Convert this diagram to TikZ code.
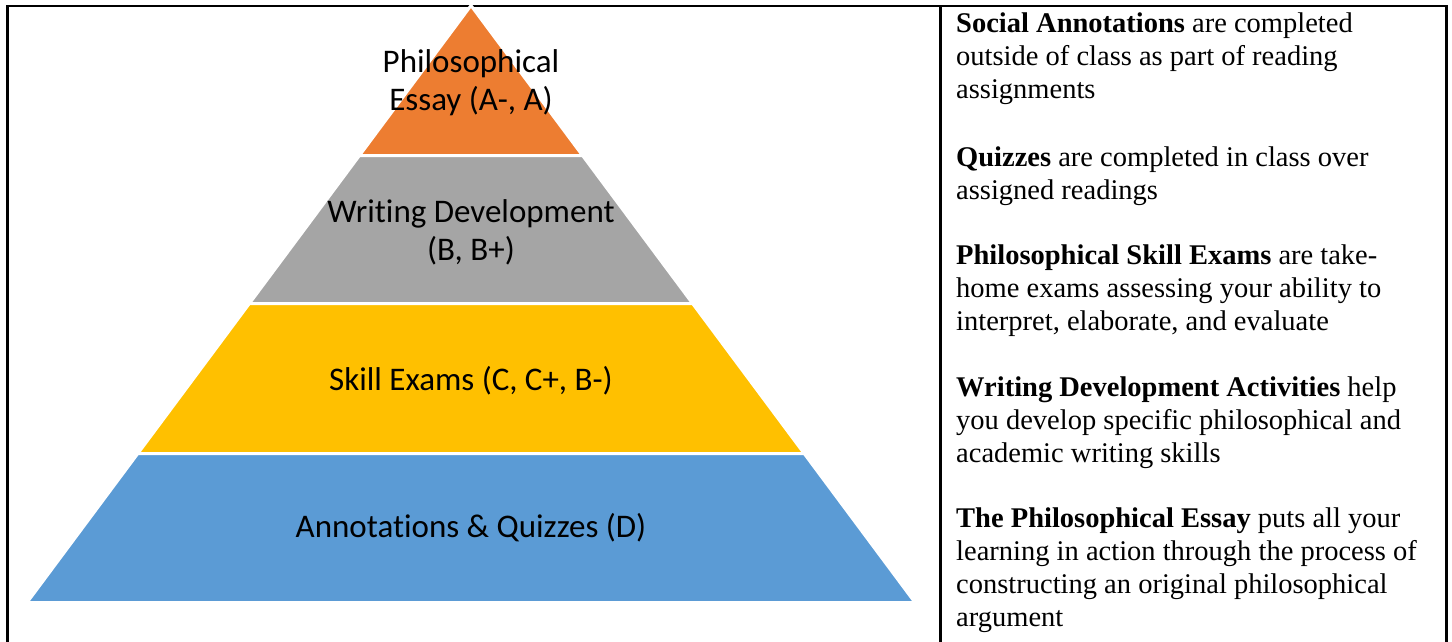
\documentclass[tikz,border=0pt]{standalone}
\usepackage{fontspec}
\setmainfont{Liberation Serif}
\newfontfamily\pyrfont[Ligatures=CommonOff]{Carlito}
\usetikzlibrary{positioning}

\definecolor{essayorange}{HTML}{ED7D31}
\definecolor{writegray}{HTML}{A5A5A5}
\definecolor{examyellow}{HTML}{FFC000}
\definecolor{quizblue}{HTML}{5B9BD5}

\tikzset{
  layer/.style={fill=#1, draw=white, line width=3pt},
  layerlabel/.style={font=\pyrfont\fontsize{33}{38}\selectfont, align=center, inner sep=0pt},
  % anchored at the baseline of the last line
  note/.style={font=\fontsize{28.5}{33}\selectfont, align=left, anchor=base west, inner sep=0pt},
  rule/.style={line width=2.5pt}
}

\begin{document}
\begin{tikzpicture}[x=1pt,y=-1pt]
\useasboundingbox (0,0) rectangle (1452,641);
% table
\draw[rule] (7.5,650) -- (7.5,6) -- (1446.5,6) -- (1446.5,650);
\draw[rule] (940.5,6) -- (940.5,650);
% pyramid
\foreach \t/\b/\c in {5.5/155.5/essayorange, 155.5/303.5/writegray, 303.5/453.5/examyellow, 453.5/602.5/quizblue}
  \filldraw[layer=\c] ({471-0.7437*(\t-5.5)},\t) -- ({471+0.7437*(\t-5.5)},\t)
    -- ({471+0.7437*(\b-5.5)},\b) -- ({471-0.7437*(\b-5.5)},\b) -- cycle;
\node[layerlabel] (essay) at (471,83) {Philosophical\\Essay (A-, A)};
\node[layerlabel] (writing) at (471,232) {Writing Development\\(B, B+)};
\node[layerlabel] (skill) at (471,381) {Skill Exams (C, C+, B-)};
\node[layerlabel] (annot) at (471,528) {Annotations \& Quizzes (D)};
% notes
\node[note] (social) at (956,98) {\textbf{Social Annotations} are completed\\outside of class as part of reading\\assignments};
\node[note] (quiz) at (956,199) {\textbf{Quizzes} are completed in class over\\assigned readings};
\node[note] (exams) at (956,330) {\textbf{Philosophical Skill Exams} are take-\\home exams assessing your ability to\\interpret, elaborate, and evaluate};
\node[note] (devel) at (956,462) {\textbf{Writing Development Activities} help\\you develop specific philosophical and\\academic writing skills};
\node[note] (essaynote) at (956,626) {\textbf{The Philosophical Essay} puts all your\\learning in action through the process of\\constructing an original philosophical\\argument};
\end{tikzpicture}
\end{document}
